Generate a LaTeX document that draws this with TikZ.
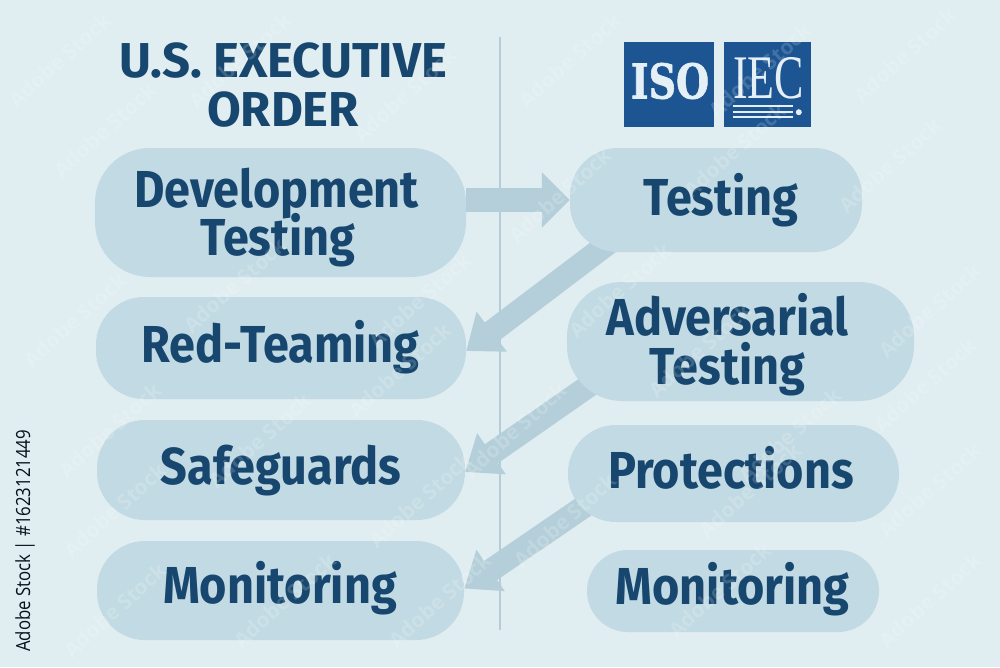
\documentclass[tikz,border=0pt]{standalone}
\usepackage{fontspec}
\setmainfont{Fira Sans}
\newfontfamily\pillfont[FakeStretch=0.9]{Fira Sans}
\newfontfamily\logoserif{Liberation Serif}
\newfontfamily\logoslab[FakeBold=1.5]{DejaVu Serif Bold}
\newfontfamily\stockfont[FakeStretch=0.86]{Open Sans}
\newfontfamily\wmfont{Open Sans}
\usetikzlibrary{arrows.meta,backgrounds,calc}
\definecolor{bgc}{HTML}{E0EDF1}
\definecolor{pillc}{HTML}{C2DAE3}
\definecolor{arrc}{HTML}{B4CFDA}
\definecolor{inkc}{HTML}{17466E}
\definecolor{logoc}{HTML}{1D5592}
\definecolor{divc}{HTML}{B5CDD7}
\definecolor{markc}{HTML}{E4F0F5}
\newcommand\placedtext[3]{\raisebox{#2}[0pt][0pt]{\makebox[0pt][c]{\hspace*{#1}\begin{tabular}[t]{@{}c@{}}#3\end{tabular}}}}
\tikzset{
 x=1pt,y=-1pt,
 pill/.style={fill=pillc,rounded corners=48pt,inner sep=0pt,text=inkc,
   font=\fontsize{52}{47}\selectfont\pillfont\bfseries},
 flow/.style={draw=arrc,line width=23pt,-{Triangle[length=32pt,width=48pt]}},
 flowlevel/.style={draw=arrc,line width=24pt,-{Triangle[length=28pt,width=54pt]}},
 logobox/.style={fill=logoc,inner sep=0pt},
 rulel/.style={draw=markc,line width=2pt},
 stockmark/.style={text=white,text opacity=0.17,rotate=42,inner sep=0pt,font=\fontsize{21}{23}\selectfont\wmfont\bfseries}
}
\begin{document}
\begin{tikzpicture}
\useasboundingbox (0,0) rectangle (1000,667);
\node[pill,minimum width=371pt,minimum height=129pt,rounded corners=55pt] (dev) at (280.5,212.5) {\placedtext{-8pt}{5.5pt}{Development\\[-8pt]\hspace*{3pt}Testing}};
\node[pill,minimum width=370pt,minimum height=102pt] (red) at (281,348) {\placedtext{-1pt}{-14pt}{Red-Teaming}};
\node[pill,minimum width=368pt,minimum height=100pt] (safe) at (281,470) {\placedtext{0pt}{-14pt}{Safeguards}};
\node[pill,minimum width=367pt,minimum height=99pt] (mon) at (280.5,590.5) {\placedtext{-1pt}{-12.5pt}{Monitoring}};
\node[pill,minimum width=292pt,minimum height=104pt] (test) at (716,200) {\placedtext{10pt}{-15pt}{Testing}};
\node[pill,minimum width=347pt,minimum height=119pt,rounded corners=55pt] (adv) at (740.5,341.5) {\placedtext{-26pt}{6.5pt}{Adversarial\\[-7pt]Testing}};
\node[pill,minimum width=331pt,minimum height=97pt] (prot) at (733.5,473.5) {\placedtext{-5pt}{-14.5pt}{Protections}};
\node[pill,minimum width=292pt,minimum height=82pt,rounded corners=41pt] (mon2) at (733,591) {\placedtext{-1pt}{-13pt}{Monitoring}};
\node[text=inkc,inner sep=0pt,font=\fontsize{49}{48}\selectfont\bfseries] (title) at (283,84) {\placedtext{0pt}{7pt}{U.S. EXECUTIVE\\ORDER}};
\node[logobox,minimum width=90pt,minimum height=85pt] (iso) at (669,84.5) {};
\node[text=markc,inner sep=0pt,font=\fontsize{48}{50}\selectfont\logoslab] (isolabel) at (670,81) {\scalebox{0.79}[1]{ISO}};
\node[logobox,minimum width=87pt,minimum height=85pt] (iec) at (767.5,84.5) {};
\node[text=markc,inner sep=0pt,font=\fontsize{62}{64}\selectfont\logoserif] (ieclabel) at (768.5,78.5) {\scalebox{0.71}[1]{IEC}};
\draw[rulel] ($(iec.south west)+(9,-21)$) -- ($(iec.south west)+(69,-21)$);
\draw[rulel] ($(iec.south west)+(9,-15)$) -- ($(iec.south west)+(69,-15)$);
\draw[rulel] ($(iec.south west)+(9,-10)$) -- ($(iec.south west)+(69,-10)$);
\fill[markc] ($(iec.south west)+(75,-15)$) circle (3);
\node[text=black!75!inkc,rotate=90,anchor=base west,inner sep=0pt,font=\fontsize{19.5}{21}\selectfont\stockfont] (stock) at (30,652) {Adobe Stock | \#1623121449};
\begin{scope}[on background layer]
\fill[bgc] (0,0) rectangle (1000,667);
\draw[divc,line width=2pt] (500,37) -- (500,630);
\draw[flowlevel] (dev.east |- test.west) -- (test.west);
\draw[flow] ($(test.south west)+(40,-10)$) -- ($(red.east)+(0,3)$);
\draw[flow] ($(adv.south west)+(33,-23)$) -- ($(safe.east)+(0,2)$);
\draw[flow] ($(prot.south west)+(27,-23)$) -- ($(mon.east)+(0,-2)$);
\end{scope}
\foreach \px/\py in {60/60,105/130,240/60,405/95,570/60,760/70,905/55,890/165,560/195,735/150,75/320,235/285,420/300,620/290,930/310,400/370,700/350,925/385,110/430,260/440,515/430,790/435,115/510,420/500,750/490,930/490,115/610,285/600,440/600,565/520,720/590,930/600}
 \node[stockmark] at (\px,\py) {Adobe Stock};
\end{tikzpicture}
\end{document}
